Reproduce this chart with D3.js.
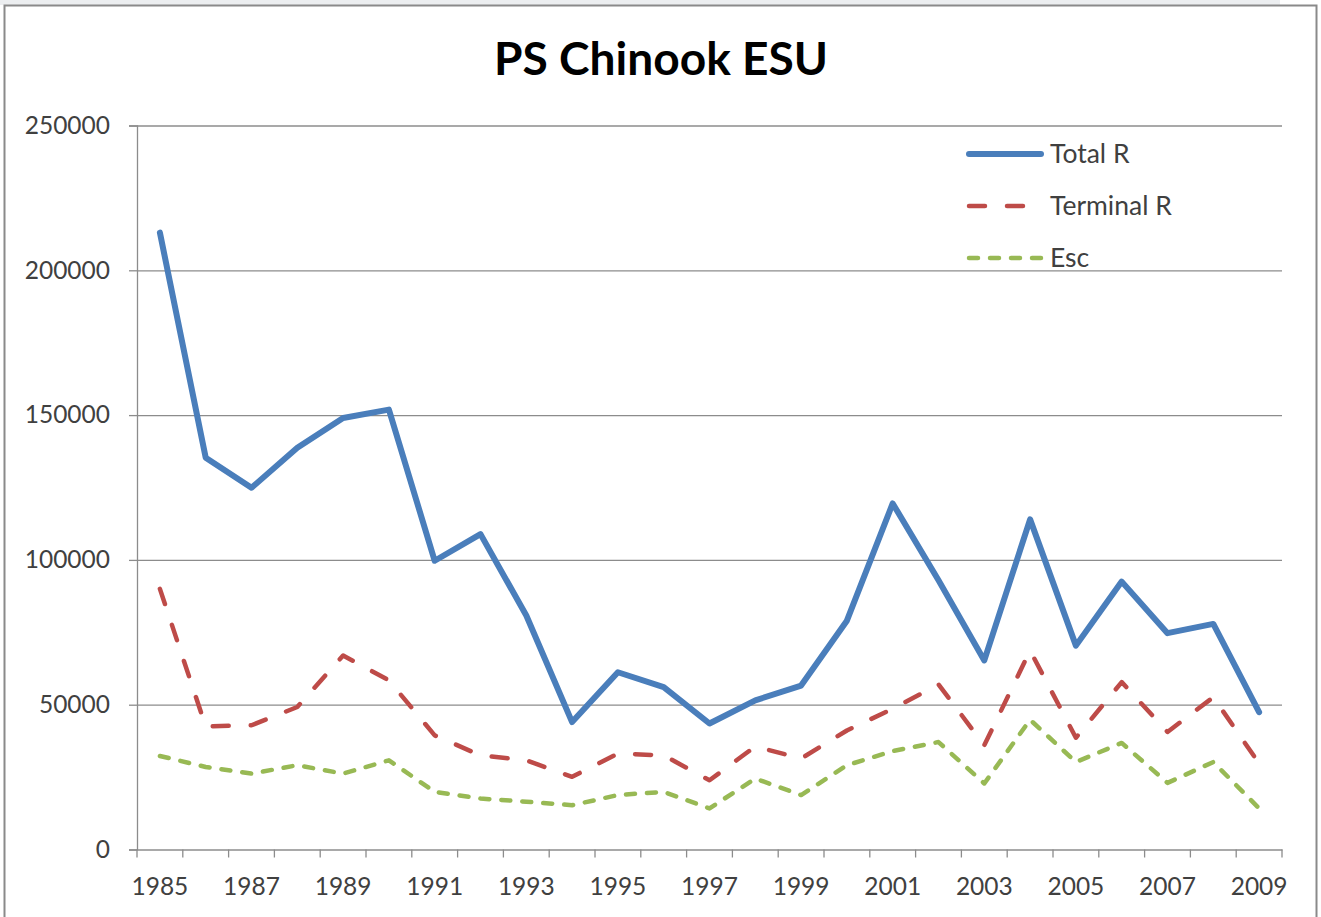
<!DOCTYPE html>
<html>
<head>
<meta charset="utf-8">
<script src="https://cdn.jsdelivr.net/npm/d3@7"></script>
<style>
html,body{margin:0;padding:0;background:#fff;}
svg{display:block;}
</style>
</head>
<body>
<svg id="chart" width="1321" height="917"></svg>
<script>
const years = [1985,1986,1987,1988,1989,1990,1991,1992,1993,1994,1995,1996,1997,1998,1999,2000,2001,2002,2003,2004,2005,2006,2007,2008,2009];
const totalR = [213000,135300,124900,138700,149000,151900,99700,108900,80800,44000,61200,56100,43500,51500,56600,79000,119500,93000,65300,114000,70400,92500,74700,77900,47400];
const terminalR = [90000,42500,42900,49200,67000,58400,39400,32500,30800,25100,33100,32500,23900,35600,31400,41100,48600,57000,36000,68700,38600,57800,40600,52600,29700];
const esc = [32300,28500,26200,29100,26200,30800,19900,17600,16500,15300,18800,19900,14200,24500,18800,29100,34000,37100,22800,44800,30200,36800,23000,30200,14200];
const yTickValues = [0,50000,100000,150000,200000,250000];
const xTickLabels = ["1985","1987","1989","1991","1993","1995","1997","1999","2001","2003","2005","2007","2009"];
const seriesNames = ["Total R","Terminal R","Esc"];
const titleText = "PS Chinook ESU";

(function(){
const svg = d3.select("#chart");
const FONT = "Lato, 'Open Sans', sans-serif";
const pLeft = 137, pRight = 1282, pTop = 125.5, pBottom = 849.5;
const gridColor = "#8c8c8c";

// background strip and border
svg.append("rect").attr("x",0).attr("y",0).attr("width",1280).attr("height",5).attr("fill","#eceef0");
svg.append("rect").attr("x",4.5).attr("y",5.5).attr("width",1312).attr("height",920)
  .attr("fill","#fff").attr("stroke","#8a8a8a").attr("stroke-width",2);

const x = d3.scaleBand().domain(years).range([pLeft,pRight]);
const cx = d => x(d) + x.bandwidth()/2;
const y = d3.scaleLinear().domain([0,250000]).range([pBottom,pTop]);

// gridlines
const grid = svg.append("g").attr("transform",`translate(${pLeft},0)`)
  .call(d3.axisLeft(y).tickValues(yTickValues.filter(v=>v>0)).tickSize(-(pRight-pLeft)).tickFormat(""));
grid.select(".domain").remove();
grid.selectAll("line").attr("stroke",gridColor).attr("stroke-width",1.3);

// y axis
const yAxis = svg.append("g").attr("transform",`translate(${pLeft},0)`)
  .call(d3.axisLeft(y).tickValues(yTickValues).tickSize(8).tickPadding(19).tickFormat(d3.format("d")));
yAxis.select(".domain").attr("stroke",gridColor).attr("stroke-width",1.3);
yAxis.selectAll(".tick line").attr("stroke",gridColor).attr("stroke-width",1.3);
yAxis.selectAll("text").attr("font-family",FONT).attr("font-size",24.5).attr("fill","#404040");

// x axis
const xAxis = svg.append("g").attr("transform",`translate(0,${pBottom})`)
  .call(d3.axisBottom(x).tickSize(0).tickPadding(0).tickFormat(""));
xAxis.select(".domain").attr("stroke",gridColor).attr("stroke-width",1.3);
xAxis.selectAll(".tick").remove();
const boundaries = years.map(d => x(d)).concat([pRight]);
xAxis.selectAll("line.tk").data(boundaries).enter().append("line")
  .attr("x1",d=>d).attr("x2",d=>d).attr("y1",0).attr("y2",8)
  .attr("stroke",gridColor).attr("stroke-width",1.3);
xAxis.selectAll("text.lbl").data(xTickLabels).enter().append("text")
  .attr("x",d=>cx(+d)).attr("y",45)
  .attr("text-anchor","middle").attr("font-family",FONT).attr("font-size",24.5).attr("fill","#404040")
  .text(d=>d);

// lines
const line = d3.line().x((d,i)=>cx(years[i])).y(d=>y(d));
const styles = [
  {data: totalR, color:"#4a7ebb", width:6, dash:null},
  {data: terminalR, color:"#be4b48", width:4.5, dash:"16,22"},
  {data: esc, color:"#98b954", width:4.5, dash:"9,12"}
];
styles.forEach(s=>{
  svg.append("path").datum(s.data).attr("d",line)
    .attr("fill","none").attr("stroke",s.color).attr("stroke-width",s.width)
    .attr("stroke-linejoin","round").attr("stroke-linecap","round")
    .attr("stroke-dasharray",s.dash);
});

// legend
const legY = [154,206,258];
seriesNames.forEach((name,i)=>{
  const s = styles[i];
  svg.append("line").attr("x1",969).attr("x2",1041).attr("y1",legY[i]).attr("y2",legY[i])
    .attr("stroke",s.color).attr("stroke-width",s.width).attr("stroke-linecap","round")
    .attr("stroke-dasharray",s.dash);
  svg.append("text").attr("x",1050).attr("y",legY[i]).attr("dy","0.35em")
    .attr("font-family",FONT).attr("font-size",26.5).attr("fill","#404040").text(name);
});

// title
const t = svg.append("text").attr("x",661).attr("y",75).attr("text-anchor","middle")
  .attr("font-family",FONT).attr("font-weight","bold").attr("font-size",44).attr("fill","#000")
  .text(titleText);
const w = t.node().getComputedTextLength();
t.attr("font-size", 44*334/w);
})();
</script>
</body>
</html>
